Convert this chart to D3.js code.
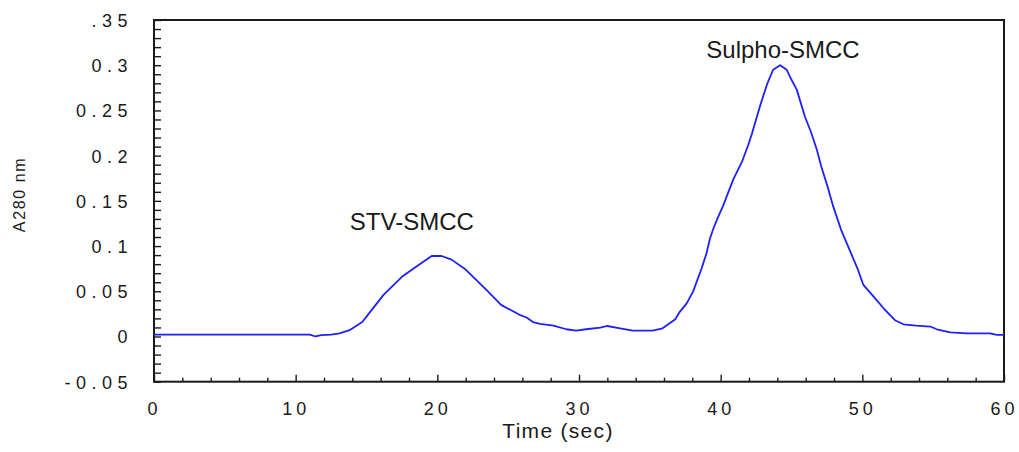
<!DOCTYPE html>
<html>
<head>
<meta charset="utf-8">
<script src="https://cdn.jsdelivr.net/npm/d3@7"></script>
<style>
  html, body { margin: 0; padding: 0; background: #fff; }
  svg { display: block; }
</style>
</head>
<body>
<svg id="chart" width="1019" height="452"></svg>
<script>
// ---- data ----
const timeSec = [0, 5, 11.0, 11.4, 11.8, 12.5, 13.1, 13.8, 14.7, 15.0, 16.2, 17.5, 18.5, 19.6, 20.3, 21.0, 22.0, 23.5, 24.5, 25.8,
  26.3, 26.75, 27.25, 28.2, 29.1, 29.8, 30.5, 31.5, 32.0, 32.9, 33.8, 35.2, 35.9, 36.8, 37.1, 37.6, 38.05, 38.66, 39.0, 39.25,
  39.5, 39.83, 40.2, 40.5, 40.9, 41.5, 41.95, 42.2, 42.8, 43.3, 43.7, 44.2, 44.66, 44.9, 45.37, 45.95, 46.4, 46.8, 47.1, 47.5,
  47.95, 48.5, 49.1, 49.7, 50.07, 50.8, 51.5, 52.3, 52.9, 53.8, 54.8, 55.25, 56.2, 57.4, 59.0, 59.5, 60];
const a280 = [0.002, 0.002, 0.002, 0.0, 0.0015, 0.002, 0.0035, 0.007, 0.016, 0.022, 0.046, 0.066, 0.077, 0.089, 0.089, 0.085, 0.074, 0.051, 0.035, 0.024,
  0.021, 0.016, 0.014, 0.012, 0.008, 0.0064, 0.008, 0.0097, 0.0116, 0.009, 0.0064, 0.0064, 0.009, 0.019, 0.027, 0.0366, 0.0496, 0.0754, 0.092, 0.1086,
  0.12, 0.1325, 0.1455, 0.158, 0.174, 0.193, 0.212, 0.224, 0.256, 0.280, 0.295, 0.300, 0.295, 0.287, 0.273, 0.243, 0.225, 0.206, 0.188, 0.168,
  0.1436, 0.118, 0.0957, 0.0736, 0.057, 0.044, 0.0312, 0.018, 0.0135, 0.012, 0.011, 0.008, 0.0046, 0.0035, 0.0035, 0.0017, 0.0017];

const xTickValues = [0, 10, 20, 30, 40, 50, 60];
const xTickLabels = ["0", "10", "20", "30", "40", "50", "60"];
const yTickValues = [-0.05, 0, 0.05, 0.1, 0.15, 0.2, 0.25, 0.3, 0.35];
const yTickLabels = ["-0.05", "0", "0.05", "0.1", "0.15", "0.2", "0.25", "0.3", ".35"];
const peakLabels = ["STV-SMCC", "Sulpho-SMCC"];
const peakLabelTimes = [18.2, 44.4];
const peakLabelValues = [0.118, 0.308];

// ---- layout ----
const svg = d3.select("#chart");
const L = 154, R = 1004, T = 20, B = 381.7;
const x = d3.scaleLinear().domain([0, 60]).range([L, R]);
const y = d3.scaleLinear().domain([-0.05, 0.35]).range([B, T]);
const ink = "#1a1a1a";
const font = "Arial, 'Liberation Sans', Helvetica, sans-serif";

// minor & major ticks
const yMinor = d3.range(-50, 351, 10).map(v => v / 1000);
const xMinor = d3.range(0, 61, 2).filter(v => v % 10 !== 0);

const gy = svg.append("g").attr("transform", `translate(${L},0)`)
  .call(d3.axisLeft(y).tickValues(yMinor).tickSize(-7).tickFormat(""));
gy.select(".domain").remove();
gy.selectAll("line").attr("stroke", ink).attr("stroke-width", 1.4);

const gxMinor = svg.append("g").attr("transform", `translate(0,${B})`)
  .call(d3.axisBottom(x).tickValues(xMinor).tickSize(-4).tickFormat(""));
gxMinor.select(".domain").remove();
gxMinor.selectAll("line").attr("stroke", ink).attr("stroke-width", 1.4);

const gxMajor = svg.append("g").attr("transform", `translate(0,${B})`)
  .call(d3.axisBottom(x).tickValues(xTickValues).tickSize(-7).tickFormat(""));
gxMajor.select(".domain").remove();
gxMajor.selectAll("line").attr("stroke", ink).attr("stroke-width", 1.4);

// tick labels
const gyl = svg.append("g").attr("transform", `translate(${L},0)`)
  .call(d3.axisLeft(y).tickValues(yTickValues).tickSize(0).tickPadding(21)
    .tickFormat((d, i) => yTickLabels[i]));
gyl.select(".domain").remove();
gyl.selectAll("text").attr("font-family", font).attr("font-size", 18)
  .attr("fill", ink).attr("letter-spacing", "5.5px").attr("dy", "0.36em");

const gxl = svg.append("g").attr("transform", `translate(0,${B})`)
  .call(d3.axisBottom(x).tickValues(xTickValues).tickSize(0).tickPadding(21)
    .tickFormat((d, i) => xTickLabels[i]));
gxl.select(".domain").remove();
gxl.selectAll("text").attr("font-family", font).attr("font-size", 18)
  .attr("fill", ink).attr("letter-spacing", "4px");

// frame
svg.append("rect").attr("x", L).attr("y", T).attr("width", R - L).attr("height", B - T)
  .attr("fill", "none").attr("stroke", ink).attr("stroke-width", 2);

// curve
const pts = timeSec.map((t, i) => [t, a280[i]]);
svg.append("path").datum(pts)
  .attr("fill", "none").attr("stroke", "#1f1fff").attr("stroke-width", 1.8)
  .attr("stroke-linejoin", "round")
  .attr("d", d3.line().x(d => x(d[0])).y(d => y(d[1])));

// peak labels
svg.selectAll(".peak").data(peakLabels).enter().append("text")
  .attr("x", (d, i) => x(peakLabelTimes[i]))
  .attr("y", (d, i) => y(peakLabelValues[i]))
  .attr("text-anchor", "middle")
  .attr("font-family", font).attr("font-size", 24).attr("fill", ink)
  .text(d => d);

// axis titles
svg.append("text").attr("x", 558).attr("y", 438).attr("text-anchor", "middle")
  .attr("font-family", font).attr("font-size", 21).attr("letter-spacing", "1.3px")
  .attr("fill", ink).text("Time (sec)");

svg.append("text").attr("transform", "translate(25,194.5) rotate(-90)")
  .attr("text-anchor", "middle")
  .attr("font-family", font).attr("font-size", 16).attr("letter-spacing", "1.6px")
  .attr("fill", ink).text("A280 nm");
</script>
</body>
</html>
